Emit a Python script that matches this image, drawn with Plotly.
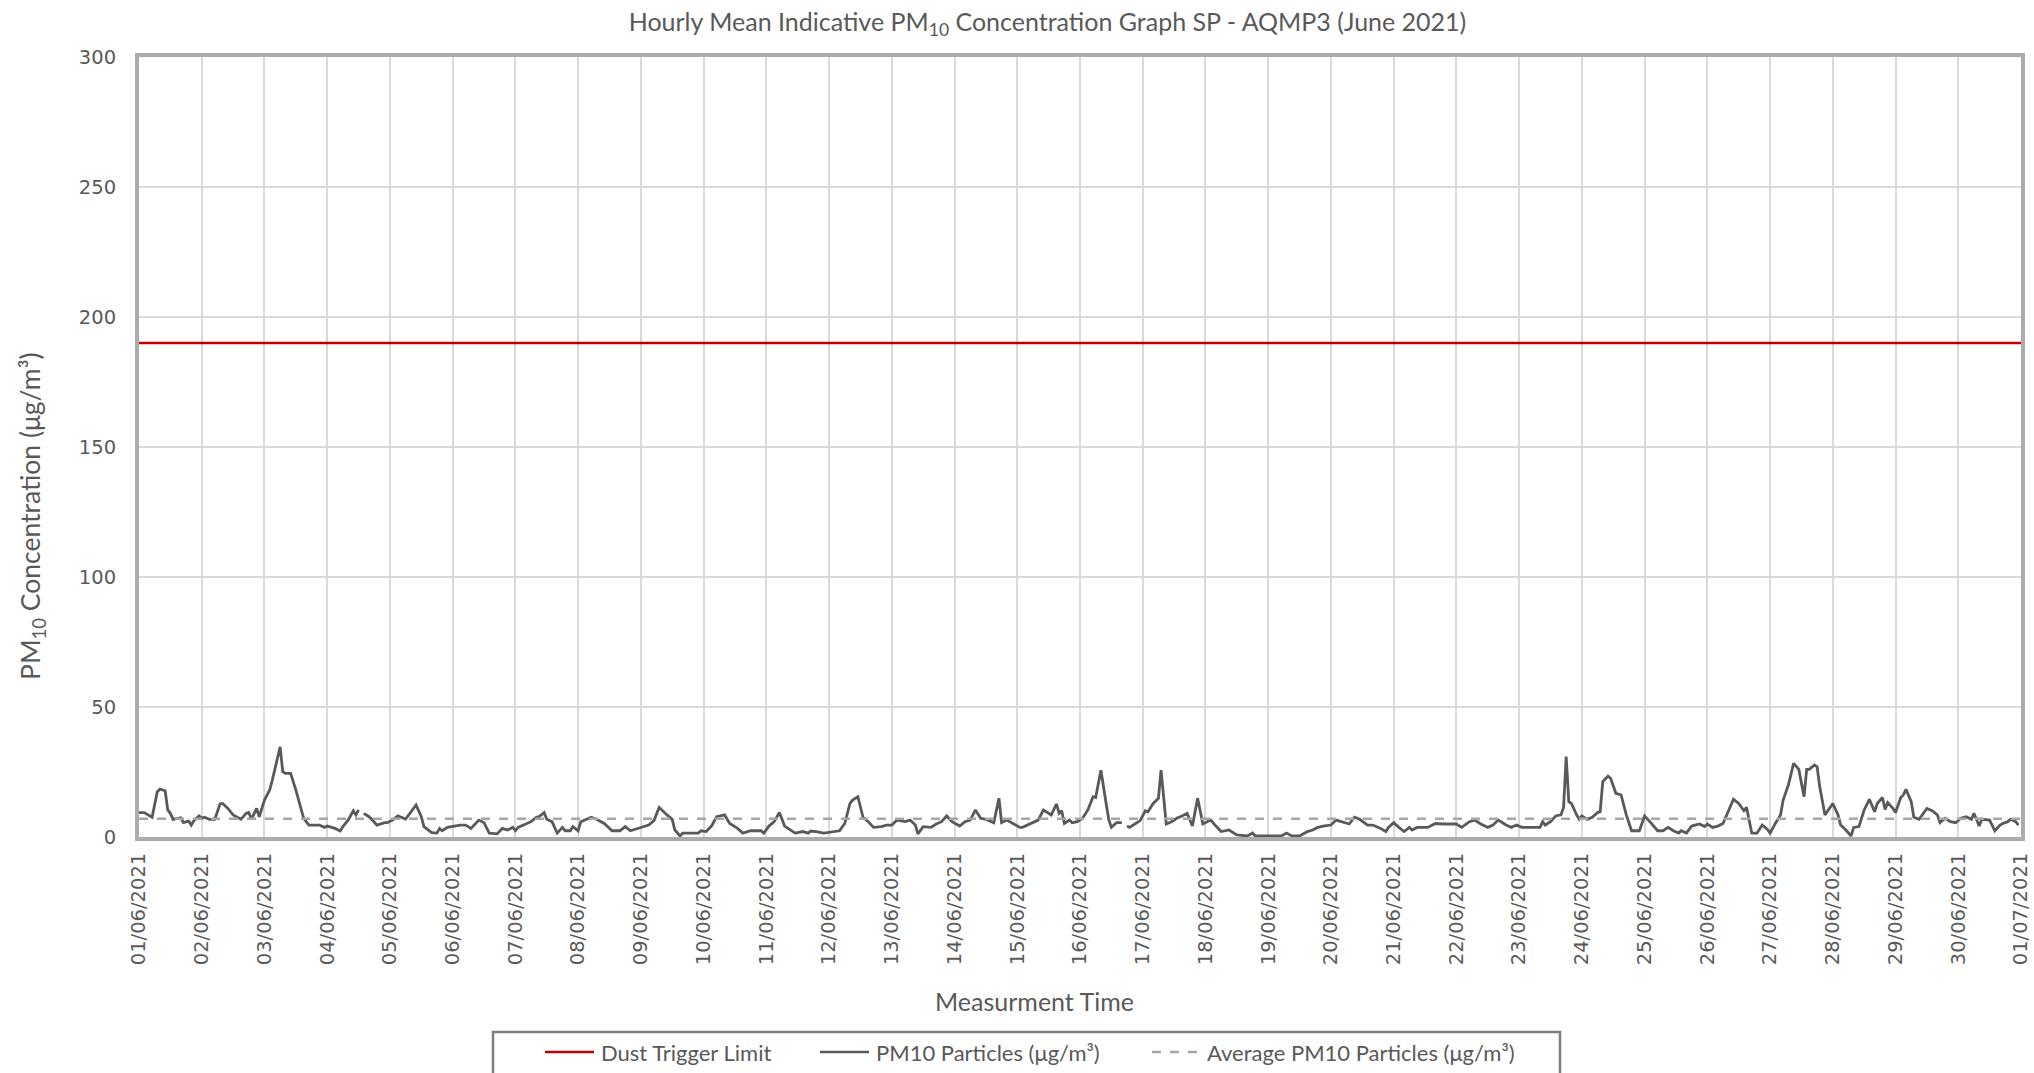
import datetime as dt
import plotly.graph_objects as go

# ---- data ----
hours = [0, 2, 5, 7, 8, 10, 11, 12, 13, 16, 17, 19, 20, 21, 23, 24, 25, 27, 29, 31, 32, 34, 36, 39, 41, 42, 43, 45, 46, 48,
         50, 51, 54, 55, 56, 58, 60, 63, 65, 69, 71, 72, 75, 77, 78, 80, 82, 83, 84, 85, 86, 88, 89, 91, 94, 95, 97, 99,
         102, 104, 106, 108, 109, 112, 114, 115, 116, 118, 120, 123,
         125, 127, 130, 132, 134, 137, 139, 141, 143, 144, 145, 147, 150, 152, 153, 155, 156, 158, 160, 162, 163, 165,
         166, 168, 169, 173, 175, 178, 181, 184, 186, 188, 192, 195, 197, 199, 202, 204, 205, 207, 208, 214, 215, 217,
         219, 221, 224, 226, 229, 231, 234, 238, 239, 241, 243, 245,
         247, 251, 254, 256, 257, 259, 262, 268, 270, 272, 273, 275, 277, 279, 281, 284, 286, 288, 290, 293, 295, 297,
         298, 300, 303, 305, 307, 309, 311, 314, 316, 318, 320, 322, 324, 327, 329, 330, 332, 334, 337, 338, 341, 344,
         346, 347, 349, 351, 352, 353, 354, 356, 357, 359, 361, 363, 365, 366, 368,
         370, 371, 372, 374, 376, 377, 378, 379, 381, 383, 385, 386, 388, 390, 391, 393, 395, 397, 399, 401, 403, 405,
         407, 410, 412, 414, 417, 420, 424, 426, 427, 437, 439, 441, 444, 447, 449, 451, 453, 456, 458, 461, 463, 465,
         467, 470, 472, 475, 477, 478, 480, 482, 484, 486, 487, 489,
         493, 496, 499, 504, 506, 509, 511, 513, 516, 518, 520, 523, 525, 527, 529, 536, 537, 538, 540, 542, 544, 545,
         546, 547, 548, 550, 551, 552, 554, 556, 558, 559, 560, 562, 563, 565, 567, 569, 571, 574, 576, 578, 581, 583,
         585, 587, 589, 590, 592, 594, 597, 599, 600, 602, 604, 606, 608, 610,
         612, 614, 615, 617, 619, 621, 623, 624, 626, 628, 629, 631, 633, 635, 637, 638, 639, 641, 642, 643, 645, 647,
         648, 650, 651, 653, 655, 656, 658, 660, 662, 664, 665, 667, 668, 669, 671, 672, 674, 675, 676, 678, 679, 681,
         684, 686, 688, 689, 691, 693, 695, 697, 699, 701, 702, 704, 705, 708, 710, 712, 713, 715, 716, 718, 719]

pm10 = [9.4, 9.4, 7.6, 17.4, 18.4, 17.8, 10.4, 9.1, 6.8, 7.4, 5.5, 6.1, 4.6, 6.3, 8.1, 7.2, 7.6, 6.8, 6.8, 12.7, 12.9,
        11.0, 8.5, 6.8, 9.1, 9.4, 6.8, 11.0, 7.8, 14.2, 18.1, 21.9, 34.7, 25.1, 24.5, 24.5, 18.1, 7.2, 4.6, 4.6, 3.7,
        4.2, 3.3, 2.3, 4.0, 6.5, 10.1, 8.5, 10.4, None, 9.1, 7.8, 6.8, 4.6, 5.5, 5.5, 6.5, 8.1, 6.9, 9.7, 12.3, 7.8,
        4.0, 1.7, 1.5, 3.3, 2.4, 3.7, 4.0, 4.6,
        4.6, 3.3, 6.5, 5.5, 1.5, 1.2, 3.3, 2.7, 3.7, 2.4, 3.7, 4.6, 5.9, 7.6, 7.8, 9.4, 6.8, 5.9, 1.5, 3.7, 2.4, 2.4,
        4.0, 2.4, 5.9, 7.6, 6.8, 5.2, 2.4, 2.4, 4.0, 2.4, 3.7, 4.6, 6.3, 11.4, 8.5, 6.8, 2.7, 0.4, 1.5, 1.5, 2.4, 2.1,
        4.2, 7.8, 8.5, 5.2, 3.3, 1.5, 2.4, 2.4, 1.5, 4.2, 5.9, 9.4,
        4.2, 1.5, 2.1, 1.5, 2.3, 2.1, 1.5, 2.4, 5.2, 12.9, 14.2, 15.5, 7.6, 5.9, 3.7, 4.0, 4.6, 4.6, 6.5, 5.9, 6.5, 4.6,
        1.2, 4.0, 3.7, 5.0, 5.9, 8.1, 5.9, 4.2, 5.9, 6.5, 10.4, 7.2, 6.8, 5.5, 14.9, 5.5, 6.5, 5.5, 3.7, 3.7, 5.0, 6.5,
        10.4, 9.7, 8.5, 12.7, 9.1, 10.1, 5.2, 6.5, 5.5, 5.9, 7.2, 10.4, 15.5, 15.2, 25.7,
        12.9, 6.8, 3.7, 5.5, 5.5, None, 4.2, 3.7, 5.0, 6.3, 10.1, 9.7, 12.9, 14.9, 25.7, 5.0, 5.9, 7.2, 8.1, 9.1, 4.2,
        14.9, 5.0, 6.5, 4.2, 2.1, 2.7, 0.8, 0.4, 1.5, 0.4, 0.4, 1.5, 0.4, 0.4, 2.1, 2.7, 3.7, 4.2, 4.6, 6.5, 5.5, 5.0,
        7.6, 6.8, 4.6, 4.6, 3.3, 2.1, 3.7, 5.5, 3.7, 2.1, 3.7, 2.7, 3.7,
        3.7, 5.2, 5.0, 5.0, 3.7, 5.9, 6.5, 5.2, 3.7, 4.6, 6.5, 4.6, 3.7, 4.6, 3.7, 3.7, 5.9, 4.6, 5.9, 8.1, 8.5, 11.4,
        30.9, 13.6, 12.9, 8.5, 6.8, 8.1, 6.8, 7.6, 9.4, 9.7, 21.3, 23.4, 22.6, 16.8, 16.2, 8.5, 2.4, 2.4, 8.1, 5.9, 2.4,
        2.4, 3.7, 2.4, 1.5, 2.4, 1.5, 4.2, 5.0, 4.0, 5.0, 3.7, 4.2, 5.2, 9.7, 14.5,
        12.9, 10.1, 11.4, 1.5, 1.5, 4.6, 2.9, 1.5, 5.2, 8.5, 14.2, 20.0, 28.3, 26.0, 15.5, 26.0, 26.0, 27.7, 27.0, 19.3,
        8.5, 11.7, 12.9, 8.5, 4.6, 2.7, 0.4, 3.7, 4.0, 10.4, 14.5, 9.7, 12.9, 15.2, 10.6, 13.2, 11.0, 9.4, 15.2, 16.2,
        18.3, 13.6, 7.6, 6.8, 11.0, 10.1, 8.5, 5.5, 7.2, 5.9, 5.5, 7.2, 7.8, 6.8, 9.1, 4.2, 6.8, 6.5, 2.4, 4.6, 5.2,
        5.9, 6.8, 5.9, 4.6]

dust_trigger_limit = 190
average_pm10 = 7.0
start_date = dt.datetime(2021, 6, 1)
end_date = dt.datetime(2021, 7, 1)

series_names = ["Dust Trigger Limit", "PM10 Particles (μg/m³)", "Average PM10 Particles (μg/m³)"]
series_colors = ["#C00000", "#595959", "#A6A6A6"]
series_dash = ["solid", "solid", "dash"]

times = [start_date + dt.timedelta(hours=h) for h in hours]

TXT = "#595959"
FONT = "Lato"
W, H = 2034, 1073
L, R, T, B = 139, 13, 57, 236
PW, PH = W - L - R, H - T - B


def px(X):
    return (X - L) / PW


def py(Y):
    return (H - B - Y) / PH


fig = go.Figure()
fig.add_trace(go.Scatter(
    x=[start_date, end_date], y=[dust_trigger_limit, dust_trigger_limit],
    mode="lines", name=series_names[0],
    line=dict(color=series_colors[0], width=2.5, dash=series_dash[0])))
fig.add_trace(go.Scatter(
    x=times, y=pm10, mode="lines", name=series_names[1],
    line=dict(color=series_colors[1], width=2.8, dash=series_dash[1]), connectgaps=False))
fig.add_trace(go.Scatter(
    x=[start_date, end_date], y=[average_pm10, average_pm10],
    mode="lines", name=series_names[2],
    line=dict(color=series_colors[2], width=2.5, dash=series_dash[2])))

# manual legend box (Excel style, clipped at the bottom of the image)
shapes = [dict(type="rect", xref="paper", yref="paper",
               x0=px(493), x1=px(1560), y0=py(1085), y1=py(1032),
               line=dict(color="#7F7F7F", width=2.5), fillcolor="white", layer="above")]
annotations = []
leg_lines = [(545, 594), (820, 869), (1152, 1200)]
leg_y = 1052
for (x0, x1), name, col, dsh in zip(leg_lines, series_names, series_colors, series_dash):
    shapes.append(dict(type="line", xref="paper", yref="paper",
                       x0=px(x0), x1=px(x1), y0=py(leg_y), y1=py(leg_y),
                       line=dict(color=col, width=2.5, dash=dsh), layer="above"))
    annotations.append(dict(xref="paper", yref="paper", x=px(x1 + 5), y=py(leg_y),
                            xanchor="left", yanchor="middle", showarrow=False, text=name,
                            font=dict(family=FONT, size=22, color=TXT)))

# axis titles
annotations.append(dict(xref="paper", yref="paper", x=px(1034), y=py(1001),
                        xanchor="center", yanchor="middle", showarrow=False,
                        text="Measurment Time", font=dict(family=FONT, size=25, color=TXT)))
annotations.append(dict(xref="paper", yref="paper", x=px(32), y=py(516),
                        xanchor="center", yanchor="middle", showarrow=False, textangle=-90,
                        text="PM<sub>10</sub> Concentration (μg/m³)",
                        font=dict(family=FONT, size=26.5, color=TXT)))

fig.update_layout(
    width=W, height=H,
    margin=dict(l=L, r=R, t=T, b=B),
    paper_bgcolor="white", plot_bgcolor="white",
    title=dict(text="Hourly Mean Indicative PM<sub>10</sub> Concentration Graph SP - AQMP3 (June 2021)",
               x=0.515, xanchor="center", y=0.9795, yanchor="middle",
               font=dict(family=FONT, size=25, color=TXT)),
    showlegend=False,
    shapes=shapes,
    annotations=annotations,
)

fig.update_xaxes(
    type="date", range=[start_date, end_date], automargin=False,
    tick0=start_date, dtick=86400000, tickformat="%d/%m/%Y", tickangle=-90,
    tickfont=dict(family="DejaVu Sans", size=19.5, color=TXT),
    showgrid=True, gridcolor="#D9D9D9", gridwidth=2,
    showline=True, linecolor="#ABABAB", linewidth=4, mirror=True,
    ticks="", ticklabelstandoff=4,
)
fig.update_yaxes(
    range=[0, 300], dtick=50, automargin=False,
    tickfont=dict(family="DejaVu Sans", size=19.5, color=TXT),
    showgrid=True, gridcolor="#D9D9D9", gridwidth=2,
    showline=True, linecolor="#ABABAB", linewidth=4, mirror=True,
    ticks="", ticklabelstandoff=15, zeroline=False,
)

fig.write_html("out.html", config={"displayModeBar": False},
               post_script="document.body.style.margin='0';")
